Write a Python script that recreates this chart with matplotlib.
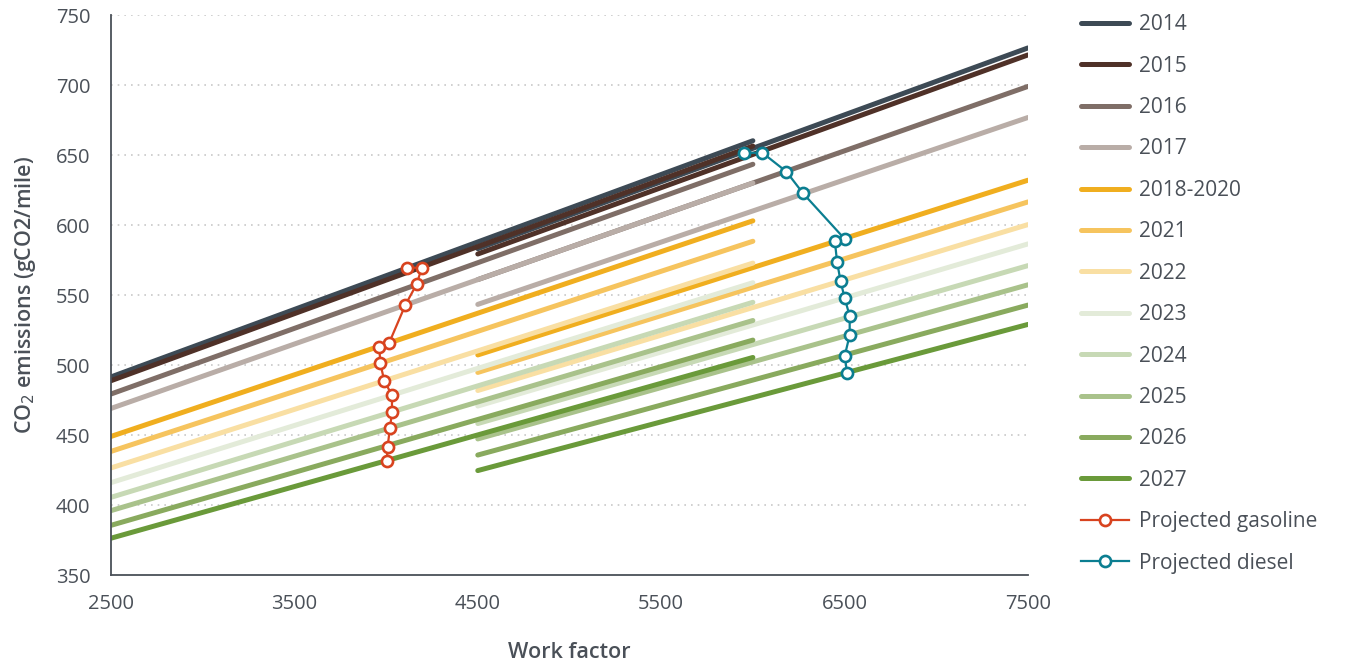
import numpy as np
import matplotlib.pyplot as plt

# ---- data ----
years = ["2014", "2015", "2016", "2017", "2018-2020", "2021", "2022",
         "2023", "2024", "2025", "2026", "2027"]
colors = ["#3d4a55", "#4f3128", "#7f6e67", "#b9ada7", "#f0ae1f", "#f6c45e",
          "#f9dfa3", "#e3ebd9", "#c7d9b5", "#a9c28b", "#89aa5e", "#6a9a3a"]

# gasoline target lines, work factor 2500 -> 6000
gas_wf = [2500, 6000]
gas_start = [491.5, 488.8, 479.3, 469.0, 449.0, 438.3, 426.5, 416.0, 405.5, 396.0, 385.5, 376.3]
gas_end = [660.2, 656.4, 643.4, 630.0, 603.0, 588.4, 572.8, 558.8, 544.8, 531.8, 517.8, 505.4]

# diesel target lines, work factor 4500 -> 7500
dsl_wf = [4500, 7500]
dsl_start = [583.1, 579.3, 561.0, 543.3, 507.2, 494.7, 481.8, 470.7, 458.2, 447.2, 435.7, 424.6]
dsl_end = [726.5, 721.5, 699.0, 676.8, 632.0, 616.5, 600.3, 586.5, 571.0, 557.3, 542.8, 529.0]

# projected fleet averages
proj_gas_x = [4116, 4195, 4166, 4105, 4017, 3963, 3968, 3990, 4032, 4032, 4021, 4008, 4004]
proj_gas_y = [569.5, 569.5, 557.6, 542.9, 515.9, 513.1, 501.6, 488.6, 478.6, 466.2, 454.8, 441.6, 431.6]
proj_dsl_x = [5950, 6052, 6183, 6274, 6501, 6447, 6459, 6478, 6501, 6528, 6528, 6501, 6514]
proj_dsl_y = [651.6, 651.6, 638.1, 622.6, 590.0, 588.6, 573.8, 560.0, 547.6, 535.0, 521.4, 506.6, 494.0]

x_ticks = [2500, 3500, 4500, 5500, 6500, 7500]
y_ticks = [350, 400, 450, 500, 550, 600, 650, 700, 750]

# ---- plot ----
plt.rcParams['font.family'] = ['Open Sans', 'DejaVu Sans']
text_col = "#4a5058"

fig = plt.figure(figsize=(13.49, 6.62), dpi=100)
ax = fig.add_axes([0.0823, 0.1314, 0.6797, 0.8459])

lw = 3.6
for i in range(len(years)):
    ax.plot(gas_wf, [gas_start[i], gas_end[i]], color=colors[i], lw=lw,
            solid_capstyle='round', label=years[i])
    ax.plot(dsl_wf, [dsl_start[i], dsl_end[i]], color=colors[i], lw=lw,
            solid_capstyle='round')

ax.plot(proj_gas_x, proj_gas_y, color="#d8431f", lw=1.6, marker='o', ms=8,
        mfc='white', mec="#d8431f", mew=1.9, label="Projected gasoline", zorder=5)
ax.plot(proj_dsl_x, proj_dsl_y, color="#0b7e91", lw=1.6, marker='o', ms=8,
        mfc='white', mec="#0b7e91", mew=1.9, label="Projected diesel", zorder=5)

ax.set_xlim(2500, 7500)
ax.set_ylim(350, 750)
ax.set_xticks(x_ticks)
ax.set_yticks(y_ticks)
ax.tick_params(length=0, labelsize=14.5, colors=text_col, pad=15)
ax.tick_params(axis='x', pad=14)

for y in y_ticks[1:]:
    ax.axhline(y, color="#c8c8c8", lw=1.2, ls=(0, (1, 3)), zorder=0)

for s in ['top', 'right']:
    ax.spines[s].set_visible(False)
for s in ['left', 'bottom']:
    ax.spines[s].set_color("#4a5058")
    ax.spines[s].set_linewidth(1.3)

ax.set_xlabel("Work factor", fontsize=15.5, color=text_col, fontweight='semibold', labelpad=20)
ax.set_ylabel("CO$_2$ emissions (gCO2/mile)", fontsize=15.5, color=text_col,
              fontweight='semibold', labelpad=13)

leg = ax.legend(loc='upper left', bbox_to_anchor=(1.037, 1.035), frameon=False,
                fontsize=15, handlelength=2.3, labelspacing=0.98, handletextpad=0.5)
for t in leg.get_texts():
    t.set_color(text_col)

fig.savefig("out.png", dpi=100)
